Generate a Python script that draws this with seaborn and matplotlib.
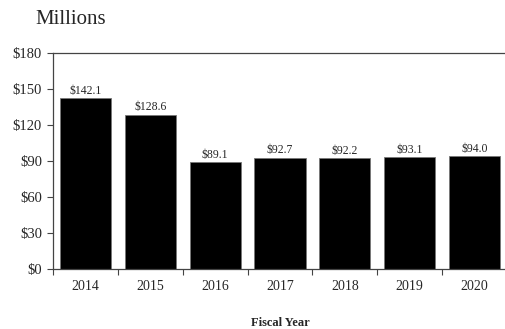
import matplotlib
matplotlib.use("Agg")
import matplotlib.pyplot as plt
import seaborn as sns
import numpy as np
import pandas as pd

years = ["2014", "2015", "2016", "2017", "2018", "2019", "2020"]
values = [142.1, 128.6, 89.1, 92.7, 92.2, 93.1, 94.0]
yticks = [0, 30, 60, 90, 120, 150, 180]

sns.set_style("white")
plt.rcParams['font.family'] = ['Liberation Serif', 'DejaVu Serif']

df = pd.DataFrame({"year": years, "value": values})

fig = plt.figure(figsize=(5.05, 3.29), dpi=100)
ax = fig.add_axes([53/505, 1-269/329, 1-53/505 + 0.004, (269-53)/329])

sns.barplot(data=df, x="year", y="value", color="black", width=0.79,
            edgecolor="#777777", linewidth=0.6, saturation=1, ax=ax)

for i, v in enumerate(values):
    ax.text(i, v + 1.2, f"${v:.1f}", ha="center", va="bottom", fontsize=8.5)

ax.set_ylim(0, 180)
ax.set_xlim(-0.5, 6.5)
ax.set_yticks(yticks)
ax.set_yticklabels([f"${t}" for t in yticks], fontsize=10.5)
ax.set_xticks(range(len(years)))
ax.set_xticklabels(years, fontsize=10)
ax.set_xticks(np.arange(-0.5, 7, 1), minor=True)
ax.tick_params(axis="x", which="major", length=0, pad=8)
ax.tick_params(axis="x", which="minor", length=4, width=0.8, color="#444444", direction="out", bottom=True)
ax.tick_params(axis="y", length=4, width=0.8, color="#444444", direction="out", left=True, pad=4)

for s in ["left", "bottom", "top"]:
    ax.spines[s].set_color("#444444")
    ax.spines[s].set_linewidth(0.9)
ax.spines["right"].set_visible(False)

ax.set_xlabel("Fiscal Year", fontsize=9, fontweight="bold", labelpad=17)
ax.set_ylabel("")
fig.text(35/505, 1-20/329, "Millions", fontsize=15, ha="left", va="center")

fig.savefig("out.png", dpi=100)
